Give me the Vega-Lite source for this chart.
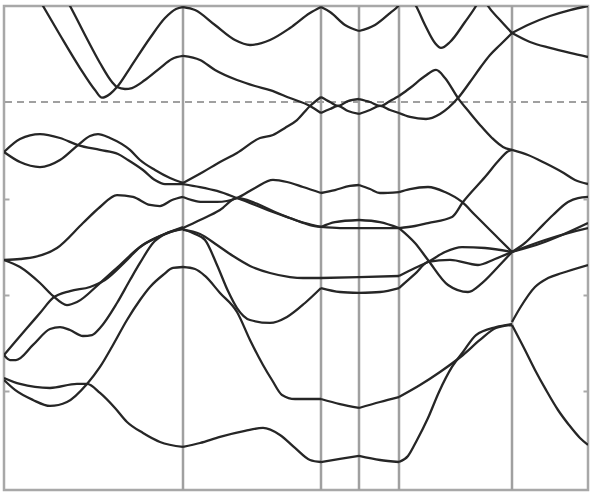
{
"$schema": "https://vega.github.io/schema/vega-lite/v6.json",
"width": 584, "height": 484,
"autosize": {"type": "none"},
"padding": {"left": 4, "top": 6, "right": 8, "bottom": 5},
"background": "white",
"config": {"view": {"stroke": "#a8a8a8", "strokeWidth": 2.5}},
"datasets": {
"kpts": [{"k": 183}, {"k": 321}, {"k": 359}, {"k": 399}, {"k": 512}],
"ef": [{"E": 0}],
"bands": [
{"b":"s1c1","k":35,"E":1.140},{"b":"s1c1","k":43,"E":0.995},{"b":"s1c1","k":60,"E":0.694},{"b":"s1c1","k":80,"E":0.352},{"b":"s1c1","k":95,"E":0.124},{"b":"s1c1","k":102,"E":0.045},{"b":"s1c1","k":110,"E":0.083},{"b":"s1c1","k":117,"E":0.155},{"b":"s1c1","k":130,"E":0.352},{"b":"s1c1","k":150,"E":0.663},{"b":"s1c1","k":165,"E":0.870},{"b":"s1c1","k":176,"E":0.964},{"b":"s1c1","k":183,"E":0.984},
{"b":"s1c2","k":62,"E":1.140},{"b":"s1c2","k":70,"E":0.995},{"b":"s1c2","k":85,"E":0.694},{"b":"s1c2","k":100,"E":0.404},{"b":"s1c2","k":112,"E":0.207},{"b":"s1c2","k":117,"E":0.155},{"b":"s1c2","k":125,"E":0.135},{"b":"s1c2","k":132,"E":0.145},{"b":"s1c2","k":145,"E":0.228},{"b":"s1c2","k":160,"E":0.352},{"b":"s1c2","k":172,"E":0.446},{"b":"s1c2","k":183,"E":0.477},
{"b":"s1p","k":4,"E":-0.518},{"b":"s1p","k":20,"E":-0.383},{"b":"s1p","k":40,"E":-0.332},{"b":"s1p","k":60,"E":-0.373},{"b":"s1p","k":78,"E":-0.446},{"b":"s1p","k":100,"E":-0.497},{"b":"s1p","k":118,"E":-0.539},{"b":"s1p","k":128,"E":-0.601},{"b":"s1p","k":143,"E":-0.705},{"b":"s1p","k":155,"E":-0.808},{"b":"s1p","k":165,"E":-0.850},{"b":"s1p","k":183,"E":-0.850},
{"b":"s1q","k":4,"E":-0.518},{"b":"s1q","k":20,"E":-0.622},{"b":"s1q","k":40,"E":-0.674},{"b":"s1q","k":60,"E":-0.601},{"b":"s1q","k":78,"E":-0.446},{"b":"s1q","k":90,"E":-0.352},{"b":"s1q","k":98,"E":-0.332},{"b":"s1q","k":110,"E":-0.373},{"b":"s1q","k":130,"E":-0.497},{"b":"s1q","k":140,"E":-0.601},{"b":"s1q","k":155,"E":-0.705},{"b":"s1q","k":170,"E":-0.788},{"b":"s1q","k":183,"E":-0.839},
{"b":"s1r","k":4,"E":-1.637},{"b":"s1r","k":20,"E":-1.627},{"b":"s1r","k":35,"E":-1.606},{"b":"s1r","k":57,"E":-1.513},{"b":"s1r","k":83,"E":-1.254},{"b":"s1r","k":100,"E":-1.088},{"b":"s1r","k":117,"E":-0.964},{"b":"s1r","k":133,"E":-0.984},{"b":"s1r","k":150,"E":-1.067},{"b":"s1r","k":160,"E":-1.078},{"b":"s1r","k":172,"E":-1.016},{"b":"s1r","k":183,"E":-0.984},
{"b":"s1s","k":4,"E":-1.637},{"b":"s1s","k":20,"E":-1.710},{"b":"s1s","k":40,"E":-1.876},{"b":"s1s","k":53,"E":-2.010},{"b":"s1s","k":67,"E":-2.104},{"b":"s1s","k":77,"E":-2.073},{"b":"s1s","k":100,"E":-1.876},{"b":"s1s","k":120,"E":-1.689},{"b":"s1s","k":140,"E":-1.503},{"b":"s1s","k":160,"E":-1.389},{"b":"s1s","k":183,"E":-1.306},
{"b":"s1t","k":4,"E":-2.622},{"b":"s1t","k":15,"E":-2.487},{"b":"s1t","k":27,"E":-2.342},{"b":"s1t","k":40,"E":-2.187},{"b":"s1t","k":53,"E":-2.031},{"b":"s1t","k":70,"E":-1.959},{"b":"s1t","k":90,"E":-1.917},{"b":"s1t","k":105,"E":-1.845},{"b":"s1t","k":125,"E":-1.658},{"b":"s1t","k":140,"E":-1.503},{"b":"s1t","k":160,"E":-1.389},{"b":"s1t","k":183,"E":-1.295},
{"b":"s1u","k":4,"E":-2.622},{"b":"s1u","k":10,"E":-2.674},{"b":"s1u","k":16,"E":-2.674},{"b":"s1u","k":33,"E":-2.518},{"b":"s1u","k":50,"E":-2.353},{"b":"s1u","k":60,"E":-2.332},{"b":"s1u","k":70,"E":-2.363},{"b":"s1u","k":83,"E":-2.425},{"b":"s1u","k":92,"E":-2.415},{"b":"s1u","k":100,"E":-2.342},{"b":"s1u","k":117,"E":-2.083},{"b":"s1u","k":130,"E":-1.845},{"b":"s1u","k":140,"E":-1.668},{"b":"s1u","k":153,"E":-1.461},{"b":"s1u","k":165,"E":-1.368},{"b":"s1u","k":183,"E":-1.316},
{"b":"s1a","k":4,"E":-2.860},{"b":"s1a","k":20,"E":-2.922},{"b":"s1a","k":50,"E":-2.964},{"b":"s1a","k":77,"E":-2.922},{"b":"s1a","k":87,"E":-2.922},{"b":"s1a","k":100,"E":-3.015},{"b":"s1a","k":115,"E":-3.171},{"b":"s1a","k":127,"E":-3.316},{"b":"s1a","k":143,"E":-3.430},{"b":"s1a","k":160,"E":-3.523},{"b":"s1a","k":183,"E":-3.575},
{"b":"s1b","k":4,"E":-2.881},{"b":"s1b","k":15,"E":-2.984},{"b":"s1b","k":33,"E":-3.088},{"b":"s1b","k":50,"E":-3.150},{"b":"s1b","k":67,"E":-3.109},{"b":"s1b","k":87,"E":-2.922},{"b":"s1b","k":100,"E":-2.746},{"b":"s1b","k":113,"E":-2.518},{"b":"s1b","k":127,"E":-2.259},{"b":"s1b","k":140,"E":-2.052},{"b":"s1b","k":150,"E":-1.917},{"b":"s1b","k":163,"E":-1.793},{"b":"s1b","k":173,"E":-1.720},{"b":"s1b","k":183,"E":-1.710},
{"b":"s2c1","k":183,"E":0.984},{"b":"s2c1","k":195,"E":0.953},{"b":"s2c1","k":215,"E":0.798},{"b":"s2c1","k":235,"E":0.643},{"b":"s2c1","k":250,"E":0.591},{"b":"s2c1","k":270,"E":0.643},{"b":"s2c1","k":290,"E":0.767},{"b":"s2c1","k":310,"E":0.922},{"b":"s2c1","k":321,"E":0.984},
{"b":"s2c2","k":183,"E":0.477},{"b":"s2c2","k":200,"E":0.435},{"b":"s2c2","k":215,"E":0.332},{"b":"s2c2","k":237,"E":0.228},{"b":"s2c2","k":255,"E":0.166},{"b":"s2c2","k":270,"E":0.124},{"b":"s2c2","k":290,"E":0.041},{"b":"s2c2","k":310,"E":-0.041},{"b":"s2c2","k":321,"E":-0.114},
{"b":"s2v1","k":183,"E":-0.839},{"b":"s2v1","k":203,"E":-0.725},{"b":"s2v1","k":220,"E":-0.622},{"b":"s2v1","k":237,"E":-0.528},{"b":"s2v1","k":260,"E":-0.373},{"b":"s2v1","k":273,"E":-0.342},{"b":"s2v1","k":285,"E":-0.269},{"b":"s2v1","k":297,"E":-0.187},{"b":"s2v1","k":310,"E":-0.041},{"b":"s2v1","k":321,"E":0.052},
{"b":"s2l2","k":183,"E":-0.850},{"b":"s2l2","k":200,"E":-0.881},{"b":"s2l2","k":217,"E":-0.922},{"b":"s2l2","k":237,"E":-0.995},{"b":"s2l2","k":255,"E":-1.067},{"b":"s2l2","k":270,"E":-1.130},{"b":"s2l2","k":290,"E":-1.202},{"b":"s2l2","k":305,"E":-1.254},{"b":"s2l2","k":321,"E":-1.295},
{"b":"s2l3","k":183,"E":-0.984},{"b":"s2l3","k":192,"E":-1.016},{"b":"s2l3","k":202,"E":-1.036},{"b":"s2l3","k":217,"E":-1.036},{"b":"s2l3","k":237,"E":-0.995},{"b":"s2l3","k":255,"E":-0.891},{"b":"s2l3","k":273,"E":-0.808},{"b":"s2l3","k":287,"E":-0.829},{"b":"s2l3","k":303,"E":-0.881},{"b":"s2l3","k":321,"E":-0.943},
{"b":"s2l4","k":183,"E":-1.306},{"b":"s2l4","k":200,"E":-1.223},{"b":"s2l4","k":220,"E":-1.119},{"b":"s2l4","k":237,"E":-0.995},{"b":"s2l4","k":255,"E":-1.047},{"b":"s2l4","k":275,"E":-1.140},{"b":"s2l4","k":295,"E":-1.223},{"b":"s2l4","k":310,"E":-1.275},{"b":"s2l4","k":321,"E":-1.295},
{"b":"s2l5","k":183,"E":-1.316},{"b":"s2l5","k":195,"E":-1.368},{"b":"s2l5","k":205,"E":-1.430},{"b":"s2l5","k":217,"E":-1.689},{"b":"s2l5","k":228,"E":-1.959},{"b":"s2l5","k":237,"E":-2.135},{"b":"s2l5","k":250,"E":-2.259},{"b":"s2l5","k":270,"E":-2.290},{"b":"s2l5","k":287,"E":-2.228},{"b":"s2l5","k":305,"E":-2.083},{"b":"s2l5","k":321,"E":-1.928},
{"b":"s2l6","k":183,"E":-1.326},{"b":"s2l6","k":200,"E":-1.368},{"b":"s2l6","k":217,"E":-1.482},{"b":"s2l6","k":233,"E":-1.596},{"b":"s2l6","k":250,"E":-1.699},{"b":"s2l6","k":270,"E":-1.772},{"b":"s2l6","k":290,"E":-1.814},{"b":"s2l6","k":303,"E":-1.824},{"b":"s2l6","k":321,"E":-1.824},
{"b":"s2b","k":183,"E":-1.710},{"b":"s2b","k":195,"E":-1.731},{"b":"s2b","k":205,"E":-1.803},{"b":"s2b","k":220,"E":-1.979},{"b":"s2b","k":237,"E":-2.176},{"b":"s2b","k":250,"E":-2.466},{"b":"s2b","k":263,"E":-2.725},{"b":"s2b","k":272,"E":-2.881},{"b":"s2b","k":282,"E":-3.036},{"b":"s2b","k":295,"E":-3.078},{"b":"s2b","k":321,"E":-3.078},
{"b":"s2a","k":183,"E":-3.575},{"b":"s2a","k":200,"E":-3.534},{"b":"s2a","k":220,"E":-3.471},{"b":"s2a","k":245,"E":-3.409},{"b":"s2a","k":263,"E":-3.378},{"b":"s2a","k":280,"E":-3.451},{"b":"s2a","k":295,"E":-3.585},{"b":"s2a","k":310,"E":-3.710},{"b":"s2a","k":321,"E":-3.731},
{"b":"s3c1","k":321,"E":0.984},{"b":"s3c1","k":330,"E":0.933},{"b":"s3c1","k":345,"E":0.798},{"b":"s3c1","k":359,"E":0.736},
{"b":"s3du","k":321,"E":0.052},{"b":"s3du","k":330,"E":0.000},{"b":"s3du","k":338,"E":-0.041},{"b":"s3du","k":348,"E":0.010},{"b":"s3du","k":359,"E":0.031},
{"b":"s3dl","k":321,"E":-0.114},{"b":"s3dl","k":330,"E":-0.073},{"b":"s3dl","k":338,"E":-0.041},{"b":"s3dl","k":348,"E":-0.093},{"b":"s3dl","k":359,"E":-0.124},
{"b":"s3c","k":321,"E":-0.943},{"b":"s3c","k":335,"E":-0.912},{"b":"s3c","k":350,"E":-0.870},{"b":"s3c","k":359,"E":-0.860},
{"b":"s3f","k":321,"E":-1.295},{"b":"s3f","k":340,"E":-1.306},{"b":"s3f","k":359,"E":-1.306},
{"b":"s3ar","k":321,"E":-1.295},{"b":"s3ar","k":335,"E":-1.244},{"b":"s3ar","k":359,"E":-1.223},
{"b":"s3m","k":321,"E":-1.824},{"b":"s3m","k":359,"E":-1.814},
{"b":"s3d","k":321,"E":-1.928},{"b":"s3d","k":340,"E":-1.969},{"b":"s3d","k":359,"E":-1.979},
{"b":"s3b","k":321,"E":-3.078},{"b":"s3b","k":340,"E":-3.130},{"b":"s3b","k":359,"E":-3.171},
{"b":"s3a","k":321,"E":-3.731},{"b":"s3a","k":340,"E":-3.699},{"b":"s3a","k":359,"E":-3.668},
{"b":"s4c1","k":359,"E":0.736},{"b":"s4c1","k":375,"E":0.798},{"b":"s4c1","k":390,"E":0.922},{"b":"s4c1","k":399,"E":1.005},{"b":"s4c1","k":405,"E":1.109},
{"b":"s4du","k":359,"E":0.031},{"b":"s4du","k":370,"E":0.000},{"b":"s4du","k":380,"E":-0.041},{"b":"s4du","k":390,"E":0.010},{"b":"s4du","k":399,"E":0.062},
{"b":"s4dl","k":359,"E":-0.124},{"b":"s4dl","k":370,"E":-0.083},{"b":"s4dl","k":380,"E":-0.041},{"b":"s4dl","k":390,"E":-0.083},{"b":"s4dl","k":399,"E":-0.114},
{"b":"s4c","k":359,"E":-0.860},{"b":"s4c","k":370,"E":-0.902},{"b":"s4c","k":380,"E":-0.943},{"b":"s4c","k":399,"E":-0.933},
{"b":"s4f","k":359,"E":-1.306},{"b":"s4f","k":399,"E":-1.306},
{"b":"s4ar","k":359,"E":-1.223},{"b":"s4ar","k":380,"E":-1.244},{"b":"s4ar","k":399,"E":-1.306},
{"b":"s4m","k":359,"E":-1.814},{"b":"s4m","k":399,"E":-1.803},
{"b":"s4d","k":359,"E":-1.979},{"b":"s4d","k":380,"E":-1.969},{"b":"s4d","k":399,"E":-1.928},
{"b":"s4b","k":359,"E":-3.171},{"b":"s4b","k":380,"E":-3.109},{"b":"s4b","k":399,"E":-3.057},
{"b":"s4a","k":359,"E":-3.668},{"b":"s4a","k":380,"E":-3.710},{"b":"s4a","k":399,"E":-3.731},
{"b":"s5c1","k":408,"E":1.109},{"b":"s5c1","k":416,"E":0.995},{"b":"s5c1","k":425,"E":0.798},{"b":"s5c1","k":435,"E":0.611},{"b":"s5c1","k":441,"E":0.560},{"b":"s5c1","k":450,"E":0.622},{"b":"s5c1","k":465,"E":0.829},{"b":"s5c1","k":476,"E":0.995},{"b":"s5c1","k":482,"E":1.109},
{"b":"s5c3","k":482,"E":1.109},{"b":"s5c3","k":488,"E":0.995},{"b":"s5c3","k":500,"E":0.850},{"b":"s5c3","k":512,"E":0.715},
{"b":"s5up","k":399,"E":0.062},{"b":"s5up","k":410,"E":0.145},{"b":"s5up","k":425,"E":0.269},{"b":"s5up","k":436,"E":0.332},{"b":"s5up","k":445,"E":0.249},{"b":"s5up","k":458,"E":0.041},{"b":"s5up","k":470,"E":-0.114},{"b":"s5up","k":480,"E":-0.238},{"b":"s5up","k":492,"E":-0.373},{"b":"s5up","k":503,"E":-0.466},{"b":"s5up","k":512,"E":-0.497},
{"b":"s5lo","k":399,"E":-0.114},{"b":"s5lo","k":410,"E":-0.155},{"b":"s5lo","k":426,"E":-0.176},{"b":"s5lo","k":440,"E":-0.124},{"b":"s5lo","k":458,"E":0.041},{"b":"s5lo","k":470,"E":0.207},{"b":"s5lo","k":480,"E":0.352},{"b":"s5lo","k":490,"E":0.487},{"b":"s5lo","k":500,"E":0.591},{"b":"s5lo","k":512,"E":0.715},
{"b":"s5z1","k":399,"E":-0.933},{"b":"s5z1","k":410,"E":-0.902},{"b":"s5z1","k":428,"E":-0.881},{"b":"s5z1","k":445,"E":-0.933},{"b":"s5z1","k":462,"E":-1.036},{"b":"s5z1","k":475,"E":-1.171},{"b":"s5z1","k":490,"E":-1.326},{"b":"s5z1","k":500,"E":-1.430},{"b":"s5z1","k":512,"E":-1.554},
{"b":"s5z2","k":399,"E":-1.306},{"b":"s5z2","k":415,"E":-1.285},{"b":"s5z2","k":428,"E":-1.254},{"b":"s5z2","k":452,"E":-1.192},{"b":"s5z2","k":463,"E":-1.036},{"b":"s5z2","k":485,"E":-0.777},{"b":"s5z2","k":500,"E":-0.591},{"b":"s5z2","k":507,"E":-0.518},{"b":"s5z2","k":512,"E":-0.497},
{"b":"s5z3","k":399,"E":-1.306},{"b":"s5z3","k":415,"E":-1.461},{"b":"s5z3","k":428,"E":-1.637},{"b":"s5z3","k":448,"E":-1.896},{"b":"s5z3","k":468,"E":-1.969},{"b":"s5z3","k":482,"E":-1.876},{"b":"s5z3","k":497,"E":-1.720},{"b":"s5z3","k":512,"E":-1.554},
{"b":"s5z4","k":399,"E":-1.803},{"b":"s5z4","k":415,"E":-1.720},{"b":"s5z4","k":428,"E":-1.658},{"b":"s5z4","k":445,"E":-1.554},{"b":"s5z4","k":462,"E":-1.503},{"b":"s5z4","k":485,"E":-1.513},{"b":"s5z4","k":512,"E":-1.554},
{"b":"s5z5","k":399,"E":-1.928},{"b":"s5z5","k":415,"E":-1.782},{"b":"s5z5","k":428,"E":-1.658},{"b":"s5z5","k":450,"E":-1.637},{"b":"s5z5","k":478,"E":-1.689},{"b":"s5z5","k":495,"E":-1.627},{"b":"s5z5","k":512,"E":-1.554},
{"b":"s5b","k":399,"E":-3.057},{"b":"s5b","k":420,"E":-2.933},{"b":"s5b","k":440,"E":-2.798},{"b":"s5b","k":463,"E":-2.622},{"b":"s5b","k":480,"E":-2.466},{"b":"s5b","k":496,"E":-2.342},{"b":"s5b","k":512,"E":-2.311},
{"b":"s5a","k":399,"E":-3.731},{"b":"s5a","k":408,"E":-3.668},{"b":"s5a","k":416,"E":-3.523},{"b":"s5a","k":428,"E":-3.275},{"b":"s5a","k":439,"E":-3.005},{"b":"s5a","k":452,"E":-2.746},{"b":"s5a","k":463,"E":-2.591},{"b":"s5a","k":476,"E":-2.415},{"b":"s5a","k":496,"E":-2.332},{"b":"s5a","k":512,"E":-2.301},
{"b":"s6c3","k":512,"E":0.715},{"b":"s6c3","k":530,"E":0.622},{"b":"s6c3","k":550,"E":0.560},{"b":"s6c3","k":570,"E":0.508},{"b":"s6c3","k":588,"E":0.466},
{"b":"s6cu","k":512,"E":0.715},{"b":"s6cu","k":530,"E":0.808},{"b":"s6cu","k":550,"E":0.891},{"b":"s6cu","k":570,"E":0.953},{"b":"s6cu","k":588,"E":0.995},
{"b":"s6e1","k":512,"E":-0.497},{"b":"s6e1","k":528,"E":-0.549},{"b":"s6e1","k":545,"E":-0.632},{"b":"s6e1","k":562,"E":-0.725},{"b":"s6e1","k":575,"E":-0.808},{"b":"s6e1","k":588,"E":-0.850},
{"b":"s6e2","k":512,"E":-1.554},{"b":"s6e2","k":525,"E":-1.461},{"b":"s6e2","k":538,"E":-1.326},{"b":"s6e2","k":553,"E":-1.171},{"b":"s6e2","k":568,"E":-1.036},{"b":"s6e2","k":578,"E":-0.995},{"b":"s6e2","k":588,"E":-0.984},
{"b":"s6e3","k":512,"E":-1.554},{"b":"s6e3","k":542,"E":-1.461},{"b":"s6e3","k":562,"E":-1.378},{"b":"s6e3","k":588,"E":-1.254},
{"b":"s6e4","k":512,"E":-1.554},{"b":"s6e4","k":545,"E":-1.430},{"b":"s6e4","k":568,"E":-1.358},{"b":"s6e4","k":588,"E":-1.306},
{"b":"s6e5","k":512,"E":-2.280},{"b":"s6e5","k":520,"E":-2.135},{"b":"s6e5","k":535,"E":-1.917},{"b":"s6e5","k":548,"E":-1.824},{"b":"s6e5","k":562,"E":-1.772},{"b":"s6e5","k":588,"E":-1.689},
{"b":"s6e6","k":512,"E":-2.311},{"b":"s6e6","k":525,"E":-2.570},{"b":"s6e6","k":535,"E":-2.777},{"b":"s6e6","k":546,"E":-2.984},{"b":"s6e6","k":558,"E":-3.192},{"b":"s6e6","k":569,"E":-3.347},{"b":"s6e6","k":580,"E":-3.482},{"b":"s6e6","k":588,"E":-3.554}
]
},
"layer": [
{"data": {"name": "kpts"}, "mark": {"type": "rule", "color": "#a0a0a0", "strokeWidth": 2.5},
 "encoding": {"x": {"field": "k", "type": "quantitative", "scale": {"domain": [4, 588], "nice": false, "zero": false}, "axis": null}}},
{"data": {"name": "ef"}, "mark": {"type": "rule", "color": "#a0a0a0", "strokeWidth": 2, "strokeDash": [7, 5]},
 "encoding": {"y": {"field": "E", "type": "quantitative", "scale": {"domain": [-4.021, 0.995], "nice": false, "zero": false},
   "axis": {"orient": "left", "title": null, "labels": false, "domain": false, "grid": false, "values": [-1, -2, -3], "tickSize": -5, "tickColor": "#a8a8a8", "tickWidth": 2}}}},
{"data": {"name": "bands"}, "mark": {"type": "line", "color": "#262626", "strokeWidth": 2.3, "interpolate": "monotone", "clip": true},
 "encoding": {
   "x": {"field": "k", "type": "quantitative", "scale": {"domain": [4, 588], "nice": false, "zero": false}, "axis": null},
   "y": {"field": "E", "type": "quantitative", "scale": {"domain": [-4.021, 0.995], "nice": false, "zero": false},
     "axis": {"orient": "right", "title": null, "labels": false, "domain": false, "grid": false, "values": [-1, -2, -3], "tickSize": -5, "tickColor": "#a8a8a8", "tickWidth": 2}},
   "detail": {"field": "b", "type": "nominal"}}}
],
"resolve": {"axis": {"y": "independent"}}
}
